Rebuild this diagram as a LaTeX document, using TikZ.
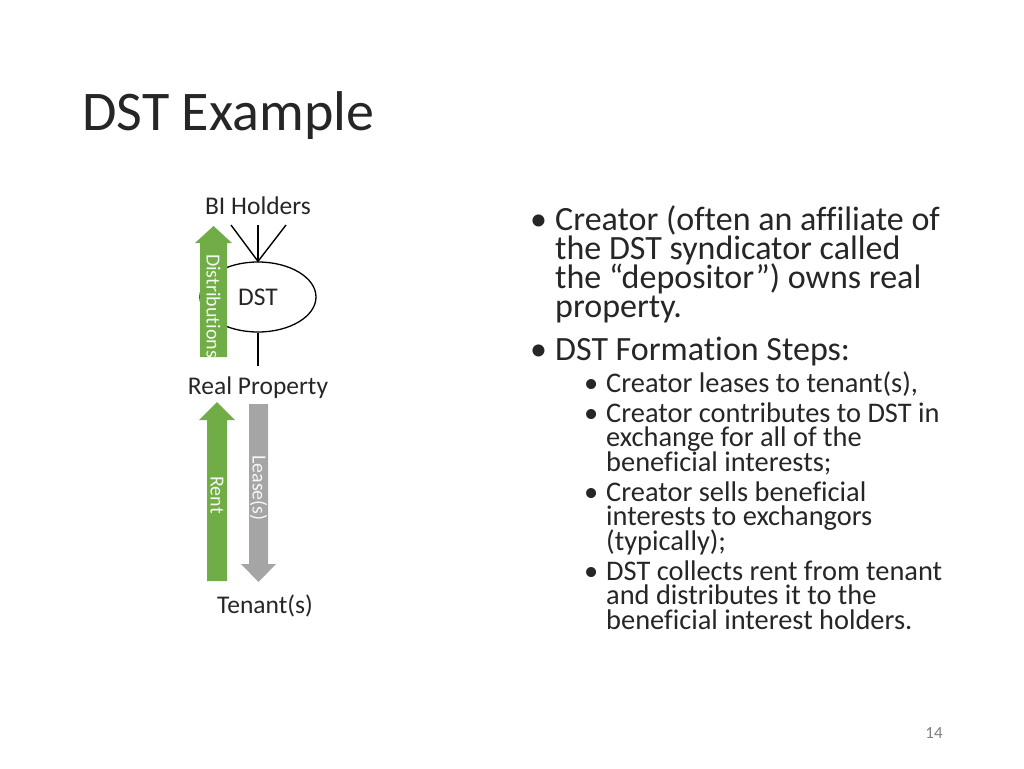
\documentclass[tikz,border=0pt]{standalone}
\usepackage{fontspec}
\usetikzlibrary{shapes.geometric}
\setmainfont{Carlito}[Ligatures=NoCommon]
\definecolor{grn}{HTML}{70AD47}
\definecolor{gry}{HTML}{A5A5A5}
\definecolor{txt}{HTML}{262626}
\begin{document}
\begin{tikzpicture}[x=1pt,y=-1pt,
  lbl/.style={font=\fontsize{25.5}{30}\selectfont,text=txt,inner sep=0},
  atxt/.style={font=\fontsize{20}{24}\selectfont,text=white!92!grn,inner sep=0,rotate=-90},
  bl/.style={anchor=base west,inner sep=0,font=\fontsize{34}{40}\selectfont,text=txt},
  sb/.style={anchor=base west,inner sep=0,font=\fontsize{28.4}{34}\selectfont,text=txt},
  ln/.style={draw=black,line width=1.4pt}]
\useasboundingbox (0,0) rectangle (1024,768);
\node[anchor=base west,inner sep=0,font=\fontsize{56}{64}\selectfont,text=txt] (title) at (82,130) {DST Example};
% diagram
\node[lbl] (bi) at (258,206) {BI Holders};
\node[draw=black,line width=1.3pt,ellipse,minimum width=116,minimum height=70,inner sep=0] (dst) at (258,297) {};
\fill[grn] (200,357) -- (200,243) -- (195,243) -- (213.5,226) -- (232,243) -- (227,243) -- (227,357) -- cycle;
\node[lbl] (dstl) at (258,297) {DST};
\node[atxt] (dis) at (213.5,306) {Distributions};
\coordinate (c1) at (231,225); \coordinate (c2) at (258,225); \coordinate (c3) at (286,225);
\draw[ln] (c1) -- (dst.north) -- (c3); \draw[ln] (c2) -- (dst.north);
\coordinate (rpt) at (258,366);
\draw[ln] (dst.south) -- (rpt);
\node[lbl] (rp) at (258,388) {Real Property};
\fill[grn] (207,581) -- (207,420) -- (199,420) -- (217,402) -- (235,420) -- (227,420) -- (227,581) -- cycle;
\node[atxt] (rent) at (217,495) {Rent};
\fill[gry] (249,404) -- (249,564) -- (241,564) -- (258.5,582) -- (276,564) -- (268,564) -- (268,404) -- cycle;
\node[atxt] (lease) at (258.5,488) {Lease(s)};
\node[lbl] (ten) at (265,606) {Tenant(s)};
% bullets
\node[bl] (b1) at (530,230) {•};
\node[bl] (l1) at (555,230) {Creator (often an affiliate of};
\node[bl] (l2) at (555,259) {the DST syndicator called};
\node[bl] (l3) at (555,288) {the “depositor”) owns real};
\node[bl] (l4) at (555,317) {property.};
\node[bl] (b2) at (530,360) {•};
\node[bl] (l5) at (555,360) {DST Formation Steps:};
\node[sb] (s1) at (584,392) {•};
\node[sb] (m1) at (606,392) {Creator leases to tenant(s),};
\node[sb] (s2) at (584,422) {•};
\node[sb] (m2) at (606,422) {Creator contributes to DST in};
\node[sb] (m3) at (606,446) {exchange for all of the};
\node[sb] (m4) at (606,471) {beneficial interests;};
\node[sb] (s3) at (584,501) {•};
\node[sb] (m5) at (606,501) {Creator sells beneficial};
\node[sb] (m6) at (606,525) {interests to exchangors};
\node[sb] (m7) at (606,550) {(typically);};
\node[sb] (s4) at (584,580) {•};
\node[sb] (m8) at (606,580) {DST collects rent from tenant};
\node[sb] (m9) at (606,604) {and distributes it to the};
\node[sb] (m10) at (606,629) {beneficial interest holders.};
\node[font=\fontsize{17}{20}\selectfont,text=gray,inner sep=0] (pg) at (934,733) {14};
\end{tikzpicture}
\end{document}
